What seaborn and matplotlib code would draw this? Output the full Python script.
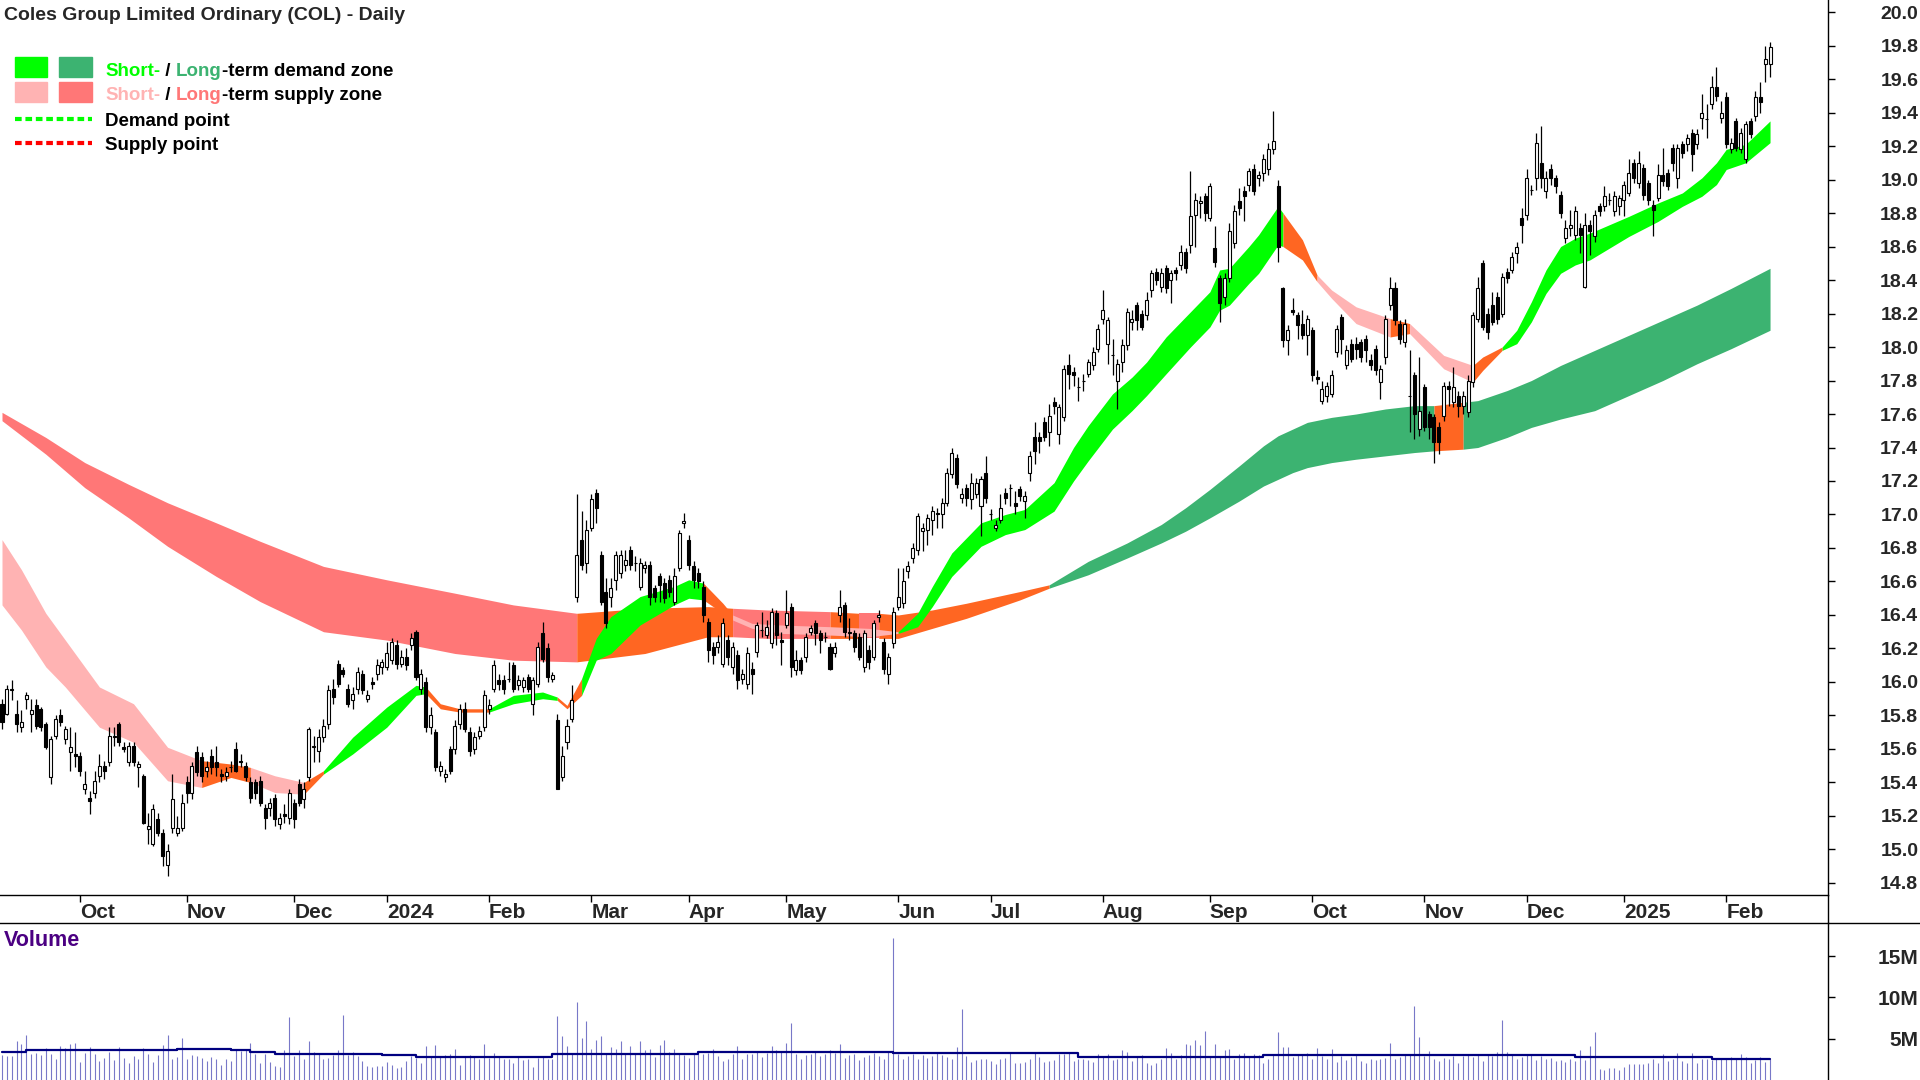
import numpy as np
import pandas as pd
import matplotlib
matplotlib.use("Agg")
import matplotlib.pyplot as plt
from matplotlib.lines import Line2D
from matplotlib.patches import Rectangle
import seaborn as sns

# DADOS
START = "2023-09-08"
END = "2025-02-14"
asx_holidays = ["2023-12-25", "2023-12-26", "2024-01-01", "2024-01-26", "2024-03-29",
                "2024-04-01", "2024-04-25", "2024-06-10", "2024-12-25", "2024-12-26",
                "2025-01-01", "2025-01-27"]

opens = [
    15.87, 15.81, 15.95, 15.81, 15.73, 15.90, 15.81, 15.86, 15.84, 15.75,
    15.43, 15.68, 15.80, 15.66, 15.58, 15.57, 15.56, 15.36, 15.31, 15.34,
    15.44, 15.50, 15.52, 15.67, 15.75, 15.61, 15.52, 15.62, 15.49, 15.44,
    15.12, 15.03, 15.18, 15.10, 14.91, 15.13, 15.10, 15.13, 15.40, 15.34,
    15.58, 15.55, 15.47, 15.56, 15.52, 15.45, 15.44, 15.49, 15.60, 15.53,
    15.50, 15.40, 15.40, 15.41, 15.25, 15.25, 15.31, 15.15, 15.21, 15.19,
    15.28, 15.39, 15.30, 15.43, 15.61, 15.59, 15.67, 15.75, 15.96, 16.11,
    16.07, 15.96, 15.89, 15.96, 16.05, 15.90, 16.00, 16.05, 16.09, 16.09,
    16.13, 16.22, 16.11, 16.15, 16.22, 16.30, 15.96, 16.00, 15.73, 15.70,
    15.47, 15.43, 15.60, 15.60, 15.75, 15.84, 15.70, 15.60, 15.68, 15.73,
    15.84, 15.96, 16.01, 16.01, 16.02, 16.10, 15.98, 15.97, 16.03, 15.87,
    15.99, 16.29, 16.20, 16.02, 15.77, 15.43, 15.64, 15.78, 16.51, 16.85,
    16.71, 16.92, 17.13, 16.76, 16.54, 16.51, 16.61, 16.65, 16.70, 16.79,
    16.71, 16.57, 16.68, 16.70, 16.56, 16.63, 16.59, 16.61, 16.48, 16.68,
    16.95, 16.85, 16.69, 16.65, 16.57, 16.36, 16.21, 16.21, 16.11, 16.25,
    16.09, 16.16, 16.02, 15.99, 16.08, 16.18, 16.31, 16.28, 16.23, 16.41,
    16.25, 16.34, 16.45, 16.07, 16.13, 16.15, 16.30, 16.35, 16.29, 16.27,
    16.21, 16.17, 16.40, 16.46, 16.30, 16.29, 16.27, 16.09, 16.19, 16.15,
    16.39, 16.24, 16.05, 16.23, 16.45, 16.47, 16.66, 16.74, 16.79, 16.90,
    16.91, 16.97, 17.01, 17.00, 17.07, 17.24, 17.34, 17.10, 17.16, 17.09,
    17.12, 17.05, 17.25, 17.00, 16.92, 16.97, 17.13, 17.16, 17.07, 17.15,
    17.08, 17.25, 17.46, 17.46, 17.55, 17.49, 17.67, 17.48, 17.58, 17.89,
    17.85, 17.76, 17.80, 17.84, 17.89, 17.99, 18.17, 18.02, 17.95, 17.80,
    17.91, 18.01, 18.15, 18.25, 18.20, 18.19, 18.34, 18.45, 18.36, 18.47,
    18.40, 18.46, 18.49, 18.57, 18.61, 18.79, 18.86, 18.90, 18.77, 18.59,
    18.41, 18.30, 18.41, 18.62, 18.87, 18.93, 18.97, 19.06, 19.01, 19.04,
    19.06, 19.18, 18.96, 18.35, 18.04, 18.22, 18.19, 18.14, 18.07, 18.10,
    17.82, 17.68, 17.71, 17.72, 17.97, 18.18, 17.89, 18.02, 18.02, 18.03,
    18.05, 17.92, 17.99, 17.79, 17.94, 18.25, 18.35, 18.14, 18.03, 17.71,
    17.83, 17.51, 17.76, 17.60, 17.58, 17.52, 17.59, 17.77, 17.67, 17.71,
    17.65, 17.61, 17.79, 18.17, 18.50, 18.20, 18.25, 18.30, 18.20, 18.45,
    18.46, 18.56, 18.77, 18.79, 18.94, 19.01, 19.10, 18.93, 19.06, 19.01,
    18.91, 18.65, 18.71, 18.67, 18.71, 18.36, 18.73, 18.66, 18.84, 18.84,
    18.88, 18.81, 18.84, 18.88, 18.92, 19.10, 18.98, 19.07, 18.98, 18.85,
    18.89, 19.03, 19.04, 19.19, 19.01, 19.21, 19.21, 19.28, 19.21, 19.37,
    19.36, 19.45, 19.55, 19.37, 19.49, 19.18, 19.35, 19.18, 19.12, 19.35,
    19.38, 19.49, 19.69, 19.69]

highs = [
    15.90, 15.98, 16.01, 15.89, 15.83, 15.94, 15.90, 15.90, 15.85, 15.76,
    15.68, 15.80, 15.84, 15.74, 15.73, 15.70, 15.58, 15.47, 15.35, 15.47,
    15.57, 15.53, 15.73, 15.73, 15.76, 15.64, 15.64, 15.64, 15.53, 15.45,
    15.22, 15.27, 15.22, 15.12, 15.03, 15.45, 15.20, 15.33, 15.44, 15.52,
    15.62, 15.58, 15.53, 15.60, 15.62, 15.48, 15.49, 15.53, 15.64, 15.57,
    15.52, 15.43, 15.42, 15.44, 15.27, 15.31, 15.33, 15.22, 15.27, 15.36,
    15.30, 15.42, 15.40, 15.73, 15.68, 15.72, 15.78, 15.98, 16.02, 16.13,
    16.09, 15.99, 15.97, 16.09, 16.07, 15.95, 16.03, 16.14, 16.14, 16.24,
    16.26, 16.25, 16.19, 16.20, 16.29, 16.31, 16.08, 16.03, 15.85, 15.72,
    15.53, 15.48, 15.62, 15.77, 15.87, 15.88, 15.73, 15.70, 15.74, 15.95,
    15.90, 16.13, 16.05, 16.04, 16.12, 16.12, 16.04, 16.03, 16.05, 16.03,
    16.24, 16.36, 16.23, 16.06, 15.81, 15.62, 15.78, 15.98, 17.12, 17.02,
    16.97, 17.12, 17.15, 16.78, 16.62, 16.62, 16.78, 16.79, 16.79, 16.81,
    16.75, 16.74, 16.72, 16.72, 16.58, 16.65, 16.62, 16.64, 16.68, 16.91,
    17.01, 16.88, 16.72, 16.68, 16.60, 16.38, 16.24, 16.28, 16.38, 16.28,
    16.24, 16.19, 16.08, 16.21, 16.12, 16.36, 16.42, 16.37, 16.44, 16.43,
    16.30, 16.55, 16.47, 16.19, 16.15, 16.29, 16.34, 16.37, 16.31, 16.30,
    16.23, 16.24, 16.55, 16.48, 16.38, 16.31, 16.29, 16.31, 16.22, 16.37,
    16.43, 16.26, 16.17, 16.45, 16.68, 16.68, 16.72, 16.83, 17.01, 16.95,
    17.00, 17.05, 17.04, 17.10, 17.28, 17.40, 17.36, 17.16, 17.18, 17.25,
    17.22, 17.23, 17.35, 17.03, 16.97, 17.12, 17.16, 17.18, 17.14, 17.17,
    17.14, 17.38, 17.55, 17.49, 17.58, 17.66, 17.70, 17.66, 17.89, 17.96,
    17.88, 17.82, 17.84, 17.93, 18.00, 18.14, 18.34, 18.18, 18.05, 17.93,
    18.05, 18.23, 18.22, 18.27, 18.22, 18.33, 18.46, 18.47, 18.47, 18.49,
    18.46, 18.48, 18.61, 18.59, 19.05, 18.92, 18.90, 18.92, 18.98, 18.72,
    18.43, 18.44, 18.74, 18.85, 18.95, 18.96, 19.07, 19.09, 19.05, 19.15,
    19.22, 19.41, 19.00, 18.36, 18.13, 18.29, 18.21, 18.22, 18.19, 18.12,
    17.86, 17.80, 17.79, 17.86, 18.13, 18.20, 18.01, 18.05, 18.06, 18.05,
    18.07, 17.96, 18.01, 17.89, 18.19, 18.42, 18.39, 18.16, 18.17, 17.98,
    17.85, 17.94, 17.78, 17.62, 17.60, 17.55, 17.79, 17.80, 17.88, 17.74,
    17.74, 17.83, 18.21, 18.42, 18.52, 18.23, 18.33, 18.33, 18.44, 18.47,
    18.57, 18.63, 18.83, 19.06, 18.97, 19.28, 19.32, 19.05, 19.09, 19.03,
    18.93, 18.76, 18.82, 18.84, 18.74, 18.80, 18.76, 18.82, 18.86, 18.96,
    18.92, 18.93, 18.91, 18.99, 19.12, 19.12, 19.17, 19.09, 19.00, 18.88,
    19.09, 19.19, 19.06, 19.21, 19.21, 19.23, 19.27, 19.30, 19.30, 19.51,
    19.45, 19.62, 19.67, 19.47, 19.52, 19.25, 19.37, 19.31, 19.35, 19.37,
    19.53, 19.58, 19.80, 19.82]

lows = [
    15.72, 15.80, 15.89, 15.70, 15.70, 15.84, 15.70, 15.72, 15.71, 15.60,
    15.39, 15.66, 15.74, 15.63, 15.47, 15.49, 15.44, 15.33, 15.21, 15.31,
    15.40, 15.42, 15.50, 15.62, 15.62, 15.58, 15.50, 15.50, 15.37, 15.15,
    15.03, 15.02, 15.08, 14.90, 14.84, 15.10, 15.08, 15.11, 15.28, 15.30,
    15.44, 15.40, 15.43, 15.45, 15.44, 15.40, 15.41, 15.46, 15.46, 15.49,
    15.41, 15.28, 15.30, 15.26, 15.12, 15.20, 15.14, 15.12, 15.16, 15.15,
    15.13, 15.26, 15.25, 15.41, 15.52, 15.52, 15.64, 15.72, 15.87, 15.97,
    16.03, 15.85, 15.84, 15.93, 15.93, 15.88, 15.96, 16.01, 16.05, 16.07,
    16.11, 16.08, 16.09, 16.07, 16.19, 16.01, 15.93, 15.70, 15.69, 15.47,
    15.44, 15.40, 15.45, 15.57, 15.72, 15.70, 15.56, 15.57, 15.66, 15.71,
    15.81, 15.94, 15.95, 15.93, 16.00, 15.94, 15.95, 15.94, 15.94, 15.80,
    15.97, 16.12, 16.00, 16.00, 15.36, 15.41, 15.60, 15.76, 16.48, 16.67,
    16.65, 16.90, 16.95, 16.46, 16.32, 16.45, 16.55, 16.62, 16.66, 16.67,
    16.66, 16.55, 16.65, 16.46, 16.48, 16.48, 16.47, 16.51, 16.46, 16.66,
    16.92, 16.67, 16.56, 16.56, 16.36, 16.12, 16.11, 16.17, 16.09, 16.10,
    16.05, 15.96, 15.99, 15.96, 15.93, 16.15, 16.27, 16.26, 16.20, 16.22,
    16.10, 16.32, 16.03, 16.04, 16.05, 16.12, 16.28, 16.22, 16.17, 16.24,
    16.07, 16.15, 16.36, 16.27, 16.25, 16.18, 16.13, 16.06, 16.08, 16.13,
    16.36, 16.05, 15.99, 16.20, 16.43, 16.44, 16.62, 16.71, 16.76, 16.78,
    16.82, 16.88, 16.92, 16.92, 17.05, 17.22, 17.16, 17.07, 17.05, 17.03,
    17.10, 16.87, 17.07, 16.97, 16.90, 16.95, 17.06, 17.05, 17.00, 17.08,
    16.98, 17.20, 17.30, 17.37, 17.44, 17.41, 17.60, 17.42, 17.56, 17.75,
    17.77, 17.68, 17.74, 17.82, 17.86, 17.97, 18.14, 17.90, 17.83, 17.63,
    17.85, 17.98, 18.10, 18.10, 18.10, 18.16, 18.30, 18.37, 18.33, 18.32,
    18.26, 18.40, 18.46, 18.44, 18.56, 18.60, 18.77, 18.75, 18.75, 18.48,
    18.15, 18.25, 18.39, 18.59, 18.79, 18.75, 18.93, 18.91, 18.96, 18.99,
    19.03, 19.15, 18.51, 18.00, 17.95, 18.19, 18.05, 18.05, 17.95, 17.80,
    17.78, 17.66, 17.67, 17.70, 17.94, 17.96, 17.87, 17.91, 17.93, 17.91,
    17.91, 17.86, 17.83, 17.69, 17.90, 18.22, 18.13, 18.02, 18.00, 17.49,
    17.45, 17.47, 17.50, 17.45, 17.31, 17.36, 17.56, 17.65, 17.64, 17.58,
    17.60, 17.58, 17.76, 18.15, 18.10, 18.05, 18.13, 18.14, 18.18, 18.38,
    18.44, 18.50, 18.62, 18.76, 18.91, 18.94, 18.95, 18.89, 18.97, 18.92,
    18.77, 18.62, 18.66, 18.64, 18.56, 18.35, 18.55, 18.63, 18.78, 18.81,
    18.85, 18.78, 18.79, 18.78, 18.90, 18.98, 18.95, 18.88, 18.85, 18.66,
    18.87, 18.96, 18.94, 19.05, 18.95, 19.13, 19.17, 19.05, 19.18, 19.30,
    19.25, 19.42, 19.47, 19.34, 19.19, 19.16, 19.17, 19.16, 19.10, 19.25,
    19.35, 19.40, 19.58, 19.61]

closes = [
    15.76, 15.96, 15.96, 15.75, 15.76, 15.92, 15.83, 15.74, 15.73, 15.61,
    15.66, 15.78, 15.76, 15.72, 15.61, 15.56, 15.47, 15.39, 15.29, 15.41,
    15.50, 15.47, 15.68, 15.68, 15.64, 15.60, 15.62, 15.52, 15.51, 15.16,
    15.14, 15.24, 15.10, 14.96, 14.99, 15.30, 15.13, 15.28, 15.34, 15.50,
    15.46, 15.44, 15.49, 15.49, 15.49, 15.44, 15.46, 15.49, 15.47, 15.52,
    15.43, 15.31, 15.34, 15.28, 15.19, 15.28, 15.18, 15.19, 15.20, 15.34,
    15.18, 15.28, 15.36, 15.72, 15.62, 15.67, 15.74, 15.95, 15.91, 15.99,
    16.05, 15.87, 15.93, 16.06, 15.95, 15.92, 15.99, 16.10, 16.12, 16.17,
    16.24, 16.11, 16.15, 16.10, 16.26, 16.03, 16.05, 15.73, 15.80, 15.49,
    15.50, 15.45, 15.47, 15.74, 15.84, 15.72, 15.59, 15.67, 15.71, 15.92,
    15.86, 16.10, 15.99, 15.96, 16.02, 15.96, 16.01, 16.01, 15.96, 16.01,
    16.21, 16.14, 16.03, 16.04, 15.36, 15.56, 15.74, 15.89, 16.76, 16.70,
    16.91, 17.09, 17.04, 16.48, 16.35, 16.56, 16.76, 16.76, 16.73, 16.70,
    16.71, 16.71, 16.70, 16.51, 16.51, 16.58, 16.50, 16.54, 16.63, 16.89,
    16.96, 16.70, 16.61, 16.60, 16.40, 16.19, 16.16, 16.24, 16.35, 16.15,
    16.21, 16.01, 16.05, 16.17, 16.05, 16.34, 16.31, 16.33, 16.42, 16.28,
    16.24, 16.41, 16.09, 16.13, 16.07, 16.27, 16.32, 16.29, 16.25, 16.27,
    16.08, 16.21, 16.45, 16.30, 16.29, 16.21, 16.15, 16.29, 16.12, 16.35,
    16.40, 16.08, 16.15, 16.42, 16.51, 16.60, 16.69, 16.80, 16.99, 16.92,
    16.98, 17.02, 17.00, 17.07, 17.25, 17.37, 17.18, 17.12, 17.10, 17.19,
    17.19, 17.21, 17.10, 17.00, 16.94, 17.04, 17.10, 17.16, 17.05, 17.11,
    17.11, 17.35, 17.38, 17.44, 17.46, 17.59, 17.65, 17.64, 17.87, 17.84,
    17.83, 17.76, 17.80, 17.91, 17.97, 18.11, 18.22, 18.16, 17.95, 17.90,
    18.01, 18.21, 18.17, 18.16, 18.12, 18.28, 18.44, 18.40, 18.44, 18.35,
    18.44, 18.44, 18.57, 18.47, 18.78, 18.88, 18.87, 18.80, 18.96, 18.51,
    18.26, 18.41, 18.69, 18.81, 18.83, 18.90, 19.05, 18.93, 19.03, 19.12,
    19.18, 19.23, 18.60, 18.04, 18.10, 18.21, 18.13, 18.07, 18.17, 17.83,
    17.81, 17.75, 17.77, 17.83, 18.11, 18.05, 17.98, 17.93, 17.99, 17.94,
    17.98, 17.89, 17.86, 17.87, 18.17, 18.35, 18.16, 18.05, 18.14, 17.71,
    17.60, 17.62, 17.52, 17.52, 17.43, 17.43, 17.77, 17.75, 17.76, 17.65,
    17.71, 17.80, 18.19, 18.35, 18.12, 18.09, 18.15, 18.17, 18.42, 18.41,
    18.54, 18.60, 18.73, 19.01, 18.94, 19.22, 19.01, 19.01, 19.01, 18.96,
    18.80, 18.71, 18.73, 18.81, 18.67, 18.73, 18.69, 18.79, 18.81, 18.90,
    18.88, 18.90, 18.89, 18.97, 19.04, 19.01, 19.10, 18.91, 18.88, 18.82,
    19.03, 18.99, 18.96, 19.10, 19.19, 19.16, 19.25, 19.15, 19.27, 19.40,
    19.36, 19.55, 19.50, 19.40, 19.21, 19.22, 19.19, 19.28, 19.33, 19.27,
    19.49, 19.46, 19.72, 19.79]

# volume em milhões
volumes = [
    3.0, 2.9, 2.9, 4.7, 4.3, 5.4, 3.1, 3.3, 3.0, 3.9,
    3.1, 2.5, 4.1, 3.9, 4.3, 4.5, 2.2, 3.3, 4.0, 3.2,
    2.3, 2.7, 3.4, 2.4, 4.0, 2.7, 2.1, 2.9, 2.6, 3.9,
    3.2, 2.2, 3.0, 4.2, 5.4, 2.5, 2.8, 5.1, 2.6, 3.0,
    2.9, 2.7, 2.3, 2.8, 2.6, 1.8, 2.5, 2.3, 3.6, 3.5,
    3.7, 4.5, 3.2, 2.0, 3.1, 2.2, 1.7, 1.6, 3.6, 7.6,
    2.9, 3.6, 2.5, 4.7, 3.4, 3.2, 2.5, 2.7, 3.0, 3.6,
    7.9, 3.0, 3.4, 2.9, 2.3, 1.7, 1.6, 1.7, 1.7, 2.2,
    1.8, 1.4, 1.6, 2.3, 2.9, 2.7, 2.1, 4.1, 2.8, 4.2,
    2.8, 3.0, 3.2, 3.7, 1.8, 2.9, 3.0, 2.8, 2.6, 4.3,
    2.7, 3.3, 2.8, 2.5, 2.5, 2.1, 2.8, 2.4, 2.6, 1.6,
    2.7, 2.9, 2.6, 2.5, 7.7, 5.3, 4.1, 3.1, 9.4, 5.1,
    7.2, 3.7, 4.8, 5.3, 3.3, 4.0, 3.8, 4.7, 3.2, 4.1,
    3.2, 4.7, 3.6, 3.7, 2.8, 4.2, 4.8, 3.4, 3.8, 3.2,
    3.0, 2.7, 3.3, 3.1, 3.1, 3.3, 3.8, 2.9, 2.3, 2.6,
    3.1, 4.1, 2.5, 3.2, 3.1, 3.5, 2.8, 3.3, 4.1, 3.6,
    3.5, 4.5, 6.9, 3.1, 2.5, 3.0, 3.2, 3.5, 2.9, 3.1,
    3.6, 3.3, 4.4, 2.7, 3.0, 3.2, 2.4, 2.8, 3.0, 3.3,
    2.9, 2.5, 3.4, 17.2, 3.2, 2.6, 2.9, 3.1, 2.5, 3.0,
    2.7, 2.9, 3.3, 3.0, 2.8, 2.6, 4.0, 8.6, 2.9, 2.2,
    2.4, 2.5, 2.6, 2.3, 1.9, 2.6, 2.7, 3.3, 2.1, 2.0,
    2.2, 2.5, 3.3, 2.8, 2.2, 2.3, 2.4, 3.2, 3.1, 3.3,
    2.3, 2.5, 2.6, 2.4, 2.2, 3.2, 2.8, 3.2, 2.4, 2.6,
    3.6, 3.4, 2.3, 2.8, 3.0, 2.1, 1.8, 2.1, 2.6, 3.9,
    3.3, 2.6, 3.0, 4.4, 4.2, 4.8, 4.2, 5.9, 2.8, 4.4,
    2.9, 3.6, 3.7, 2.6, 3.1, 3.3, 2.8, 3.2, 3.0, 2.1,
    2.5, 3.1, 5.8, 4.0, 4.0, 2.8, 3.2, 3.0, 3.3, 2.6,
    3.9, 2.9, 2.5, 3.7, 2.2, 2.9, 2.4, 2.8, 3.1, 2.3,
    2.1, 2.6, 2.4, 2.6, 2.7, 4.5, 2.5, 2.8, 3.2, 3.2,
    9.0, 5.2, 2.9, 3.5, 2.5, 2.3, 2.7, 2.5, 2.9, 2.0,
    2.9, 3.0, 2.8, 3.1, 2.3, 3.1, 2.9, 3.4, 7.3, 3.4,
    3.0, 2.6, 2.8, 3.2, 3.0, 2.4, 2.9, 2.5, 2.7, 2.3,
    2.4, 2.2, 2.6, 2.3, 3.6, 2.4, 4.1, 5.8, 1.3, 1.2,
    1.4, 1.5, 1.2, 1.6, 1.9, 1.9, 1.9, 1.9, 2.0, 2.6,
    2.0, 3.1, 2.3, 2.6, 3.3, 2.3, 2.0, 3.3, 2.1, 2.5,
    2.5, 2.4, 2.6, 2.5, 2.7, 2.8, 2.6, 3.2, 2.8, 2.0,
    2.4, 2.8, 2.2, 2.6]

# média do volume (degraus)
vol_avg_idx = [0, 5, 36, 47, 51, 56, 65, 78, 85, 113, 133, 143, 177, 183, 201, 221, 259, 323, 351, 363]
vol_avg_val = [3.4, 3.6, 3.8, 3.6, 3.4, 3.2, 3.1, 3.0, 2.8, 3.1, 3.2, 3.4, 3.35, 3.3, 3.25, 2.8, 3.0, 2.75, 2.6, 2.6]

# zona de curto prazo (bordas)
st_idx = [0, 4, 9, 13, 20, 27, 34, 41, 47, 51, 56, 62, 66, 72, 79, 85, 87, 90, 94, 100,
          105, 111, 114, 116, 119, 122, 125, 131, 138, 141, 144, 148, 150, 154, 160, 170, 178, 184, 188, 191,
          195, 201, 206, 210, 216, 220, 223, 228, 232, 235, 239, 244, 248, 250, 252, 256, 258, 262, 263, 267,
          270, 273, 278, 285, 289, 296, 302, 304, 308, 311, 314, 317, 320, 323, 326, 334, 340, 345, 349, 352,
          354, 358, 363]
st_top = [16.85, 16.67, 16.41, 16.25, 15.97, 15.87, 15.61, 15.53, 15.51, 15.49, 15.44, 15.40, 15.47, 15.67, 15.85, 15.98, 15.97, 15.87, 15.84, 15.84,
          15.92, 15.94, 15.91, 15.86, 16.02, 16.26, 16.39, 16.51, 16.57, 16.61, 16.59, 16.47, 16.40, 16.35, 16.34, 16.33, 16.32, 16.30, 16.41, 16.57,
          16.77, 16.95, 17.00, 17.03, 17.19, 17.40, 17.53, 17.72, 17.82, 17.91, 18.06, 18.21, 18.33, 18.46, 18.47, 18.60, 18.67, 18.84, 18.80, 18.64,
          18.43, 18.34, 18.24, 18.17, 18.14, 17.95, 17.89, 17.94, 18.00, 18.10, 18.27, 18.46, 18.60, 18.65, 18.68, 18.78, 18.86, 18.92, 19.01, 19.10,
          19.18, 19.21, 19.35]
st_bot = [16.46, 16.31, 16.09, 15.97, 15.73, 15.64, 15.41, 15.37, 15.43, 15.40, 15.34, 15.33, 15.45, 15.57, 15.73, 15.92, 15.93, 15.84, 15.82, 15.82,
          15.87, 15.90, 15.89, 15.84, 15.92, 16.13, 16.17, 16.34, 16.46, 16.50, 16.49, 16.41, 16.37, 16.32, 16.29, 16.28, 16.27, 16.29, 16.33, 16.45,
          16.63, 16.81, 16.88, 16.91, 17.02, 17.20, 17.32, 17.51, 17.62, 17.71, 17.84, 18.00, 18.12, 18.22, 18.25, 18.38, 18.44, 18.61, 18.60, 18.52,
          18.39, 18.29, 18.14, 18.06, 18.08, 17.87, 17.79, 17.86, 17.98, 18.02, 18.15, 18.32, 18.44, 18.49, 18.52, 18.66, 18.75, 18.84, 18.90, 18.97,
          19.06, 19.10, 19.22]
st_seg_start = [0, 41, 51, 62, 66, 87, 100, 114, 119, 144, 150, 184, 263, 270, 285, 289, 302, 308]
st_seg_state = ["supply", "neutral", "supply", "neutral", "demand", "neutral", "demand", "neutral", "demand",
                "neutral", "supply", "demand", "neutral", "supply", "neutral", "supply", "neutral", "demand"]

# zona de longo prazo (bordas)
lt_idx = [0, 9, 17, 26, 34, 44, 53, 66, 79, 93, 105, 118, 132, 145, 150, 157, 170, 176, 180, 184,
          191, 198, 209, 215, 223, 231, 238, 243, 248, 254, 259, 262, 265, 268, 273, 278, 284, 290, 294, 300,
          303, 309, 314, 320, 327, 334, 341, 348, 355, 363]
lt_top = [17.61, 17.46, 17.31, 17.18, 17.07, 16.95, 16.84, 16.69, 16.61, 16.53, 16.46, 16.41, 16.44, 16.45, 16.44, 16.43, 16.42, 16.41, 16.41, 16.40,
          16.43, 16.47, 16.54, 16.58, 16.72, 16.83, 16.94, 17.04, 17.15, 17.29, 17.41, 17.47, 17.51, 17.55, 17.58, 17.60, 17.63, 17.65, 17.65, 17.67,
          17.68, 17.74, 17.80, 17.89, 17.98, 18.07, 18.16, 18.25, 18.35, 18.47]
lt_bot = [17.56, 17.36, 17.16, 16.98, 16.81, 16.63, 16.48, 16.30, 16.25, 16.17, 16.13, 16.12, 16.17, 16.27, 16.27, 16.26, 16.26, 16.26, 16.26, 16.26,
          16.32, 16.38, 16.49, 16.56, 16.64, 16.74, 16.83, 16.90, 16.98, 17.08, 17.17, 17.21, 17.25, 17.28, 17.31, 17.33, 17.35, 17.37, 17.38, 17.39,
          17.40, 17.46, 17.52, 17.57, 17.62, 17.71, 17.80, 17.90, 17.99, 18.10]
lt_seg_start = [0, 118, 150, 170, 176, 180, 215, 294, 300]
lt_seg_state = ["supply", "neutral", "supply", "neutral", "supply", "neutral", "demand", "neutral", "demand"]

# ESTILO
ST_COLORS = {"demand": "#00FF00", "supply": "#FFB3B3", "neutral": "#FF6622"}
LT_COLORS = {"demand": "#3CB371", "supply": "#FF7777", "neutral": "#FF6622"}
VOL_COLOR = "#7878C8"
W, H = 1920, 1080

sns.set_theme(style="white")
plt.rcParams["font.family"] = ["Liberation Sans", "DejaVu Sans"]
NARROW = ["Liberation Sans Narrow", "Liberation Sans", "DejaVu Sans"]

dates = pd.bdate_range(START, END)
dates = dates[~dates.isin(pd.to_datetime(asx_holidays))]
n = min(len(dates), len(closes))
dates = dates[:n]
x = np.arange(n)
o = np.array(opens[:n])
h = np.array(highs[:n])
l = np.array(lows[:n])
c = np.array(closes[:n])
v = np.array(volumes[:n])


def fbox(x0, y0, x1, y1):
    return [x0 / W, 1 - y1 / H, (x1 - x0) / W, (y1 - y0) / H]


fig = plt.figure(figsize=(W / 100, H / 100), dpi=100)
ax = fig.add_axes(fbox(0, 0, 1828, 895))
axv = fig.add_axes(fbox(0, 923, 1828, 1080))


def draw_band(axis, bx, top, bot, seg_start, seg_state, colors):
    bx = np.array(bx)
    top = np.array(top)
    bot = np.array(bot)
    bounds = list(seg_start) + [bx[-1]]
    for k, state in enumerate(seg_state):
        m = (bx >= bounds[k]) & (bx <= bounds[k + 1])
        axis.fill_between(bx[m], bot[m], top[m], color=colors[state], linewidth=0, zorder=1)


draw_band(ax, lt_idx, lt_top, lt_bot, lt_seg_start, lt_seg_state, LT_COLORS)
draw_band(ax, st_idx, st_top, st_bot, st_seg_start, st_seg_state, ST_COLORS)

# candles
up = c >= o
ax.vlines(x, l, h, color="black", linewidth=0.9, zorder=3)
ax.bar(x, np.abs(c - o), bottom=np.minimum(o, c), width=0.62,
       color=np.where(up, "white", "black"), edgecolor="black", linewidth=0.8, zorder=4)

ax.set_xlim(-0.41, 374.9)
ax.set_ylim(14.728, 20.072)

# eixo de preço
ax.yaxis.tick_right()
yt = np.round(np.arange(14.8, 20.01, 0.2), 1)
ax.set_yticks(yt)
ax.set_yticklabels([f"{t:.1f}" for t in yt], fontweight="bold", fontsize=14)
ax.tick_params(axis="y", direction="out", length=5, width=1, color="black", pad=60, right=True, left=False)
for lbl in ax.get_yticklabels():
    lbl.set_horizontalalignment("right")

# meses
month_pos = []
month_lab = []
prev = None
for i, d in enumerate(dates):
    if prev is None or d.month != prev:
        if i > 0:
            month_pos.append(i)
            month_lab.append(str(d.year) if d.month == 1 else d.strftime("%b"))
        prev = d.month
ax.set_xticks(month_pos)
ax.set_xticklabels(month_lab, fontweight="bold", fontsize=15, family=NARROW)
ax.tick_params(axis="x", direction="out", length=5, width=1, color="black", pad=1, bottom=True)
for lbl in ax.get_xticklabels():
    lbl.set_horizontalalignment("left")

for s in ["left", "top"]:
    ax.spines[s].set_visible(False)
for s in ["right", "bottom"]:
    ax.spines[s].set_color("black")
    ax.spines[s].set_linewidth(1)

# volume
axv.vlines(x, 0, v, color=VOL_COLOR, linewidth=0.8, zorder=2)
sns.lineplot(x=vol_avg_idx, y=vol_avg_val, drawstyle="steps-post", color="#000080",
             linewidth=1.6, estimator=None, ax=axv, zorder=3)
axv.set_xlim(-0.41, 374.9)
axv.set_ylim(0, 19.0)
axv.yaxis.tick_right()
axv.set_yticks([5, 10, 15])
axv.set_yticklabels(["5M", "10M", "15M"], fontweight="bold", fontsize=15, family=NARROW)
axv.tick_params(axis="y", direction="out", length=5, width=1, color="black", pad=60, right=True, left=False)
for lbl in axv.get_yticklabels():
    lbl.set_horizontalalignment("right")
axv.set_xticks([])
axv.set_xlabel("")
axv.set_ylabel("")
for s in ["left", "bottom"]:
    axv.spines[s].set_visible(False)
for s in ["right", "top"]:
    axv.spines[s].set_color("black")
    axv.spines[s].set_linewidth(1)

fig.text(4 / W, 1 - 940 / H, "Volume", color="#4B0082", fontsize=15.5, fontweight="bold",
         family=NARROW, ha="left", va="center")

# linhas de moldura
fig.add_artist(Line2D([1828 / W, 1], [1 - 923 / H, 1 - 923 / H], color="black", linewidth=1))
fig.add_artist(Line2D([1828 / W, 1828 / W], [1 - 895 / H, 1 - 923 / H], color="black", linewidth=1))

# título
fig.text(4 / W, 1 - 15 / H, "Coles Group Limited Ordinary (COL) - Daily",
         fontsize=14, fontweight="bold", ha="left", va="center")

# legenda
fig.add_artist(Rectangle((15 / W, 1 - 77 / H), 32 / W, 20 / H, color=ST_COLORS["demand"], transform=fig.transFigure))
fig.add_artist(Rectangle((59 / W, 1 - 77 / H), 33 / W, 20 / H, color=LT_COLORS["demand"], transform=fig.transFigure))
fig.add_artist(Rectangle((15 / W, 1 - 102 / H), 32 / W, 20 / H, color=ST_COLORS["supply"], transform=fig.transFigure))
fig.add_artist(Rectangle((59 / W, 1 - 102 / H), 33 / W, 20 / H, color=LT_COLORS["supply"], transform=fig.transFigure))
fig.add_artist(Line2D([15 / W, 92 / W], [1 - 119 / H] * 2, color="#00FF00", linewidth=3,
                      linestyle=(0, (1.6, 0.9)), dash_capstyle="butt"))
fig.add_artist(Line2D([15 / W, 92 / W], [1 - 143 / H] * 2, color="#FF0000", linewidth=3,
                      linestyle=(0, (1.6, 0.9)), dash_capstyle="butt"))

renderer = fig.canvas.get_renderer()
legend_rows = [
    (71, [("Short-", ST_COLORS["demand"]), (" / ", "black"), ("Long", LT_COLORS["demand"]), ("-term demand zone", "black")]),
    (96, [("Short-", ST_COLORS["supply"]), (" / ", "black"), ("Long", LT_COLORS["supply"]), ("-term supply zone", "black")]),
    (121, [("Demand point", "black")]),
    (146, [("Supply point", "black")]),
]
for ypix, parts in legend_rows:
    xpix = 105
    for s, col in parts:
        t = fig.text(xpix / W, 1 - ypix / H, s, color=col, fontsize=13.5, fontweight="bold",
                     ha="left", va="center")
        xpix += t.get_window_extent(renderer).width

fig.savefig("out.png", dpi=100)
